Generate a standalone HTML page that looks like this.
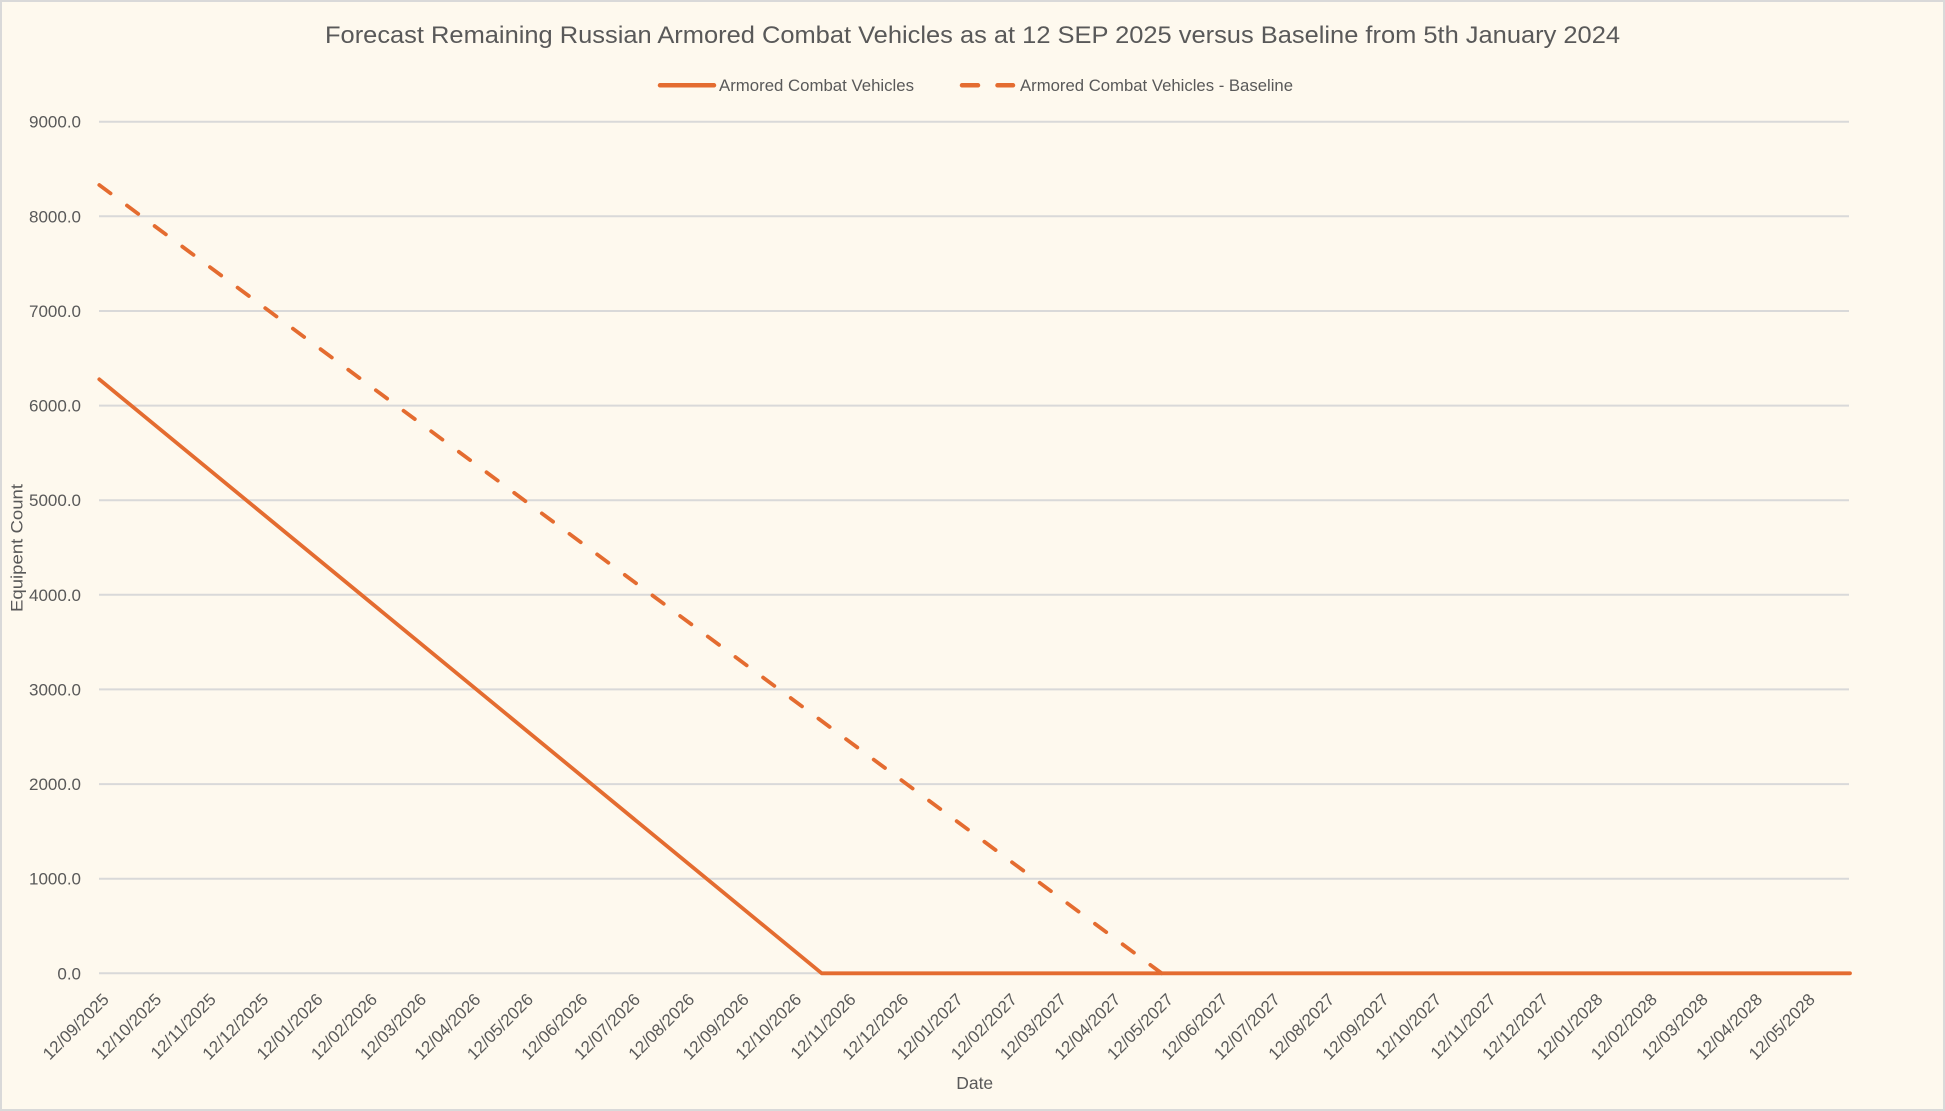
<!DOCTYPE html>
<html>
<head>
<meta charset="utf-8">
<style>
  html, body { margin:0; padding:0; background:#FEF9EE; }
  svg { display:block; }
  text { font-family: "Liberation Sans", Arial, sans-serif; fill:#595959; }
</style>
</head>
<body>
<svg width="1945" height="1111" viewBox="0 0 1945 1111" xmlns="http://www.w3.org/2000/svg">
  <rect x="1" y="1" width="1943" height="1109" fill="#FEF9EE" stroke="#D9D9D9" stroke-width="2"/>

  <!-- Title -->
  <text x="325" y="43" font-size="24" textLength="1295" lengthAdjust="spacingAndGlyphs">Forecast Remaining Russian Armored Combat Vehicles as at 12 SEP 2025 versus Baseline from 5th January 2024</text>

  <!-- Legend -->
  <line x1="660" y1="85.3" x2="714" y2="85.3" stroke="#E46C30" stroke-width="4.5" stroke-linecap="round"/>
  <text x="719" y="91" font-size="16.5" textLength="195" lengthAdjust="spacingAndGlyphs">Armored Combat Vehicles</text>
  <line x1="962" y1="85.3" x2="978" y2="85.3" stroke="#E46C30" stroke-width="4.5" stroke-linecap="round"/>
  <line x1="997.5" y1="85.3" x2="1013" y2="85.3" stroke="#E46C30" stroke-width="4.5" stroke-linecap="round"/>
  <text x="1020" y="91" font-size="16.5" textLength="273" lengthAdjust="spacingAndGlyphs">Armored Combat Vehicles - Baseline</text>

  <!-- Gridlines -->
  <g stroke="#D9D9D9" stroke-width="2">
    <line x1="99" y1="121.7" x2="1849" y2="121.7"/>
    <line x1="99" y1="216.3" x2="1849" y2="216.3"/>
    <line x1="99" y1="311.0" x2="1849" y2="311.0"/>
    <line x1="99" y1="405.6" x2="1849" y2="405.6"/>
    <line x1="99" y1="500.2" x2="1849" y2="500.2"/>
    <line x1="99" y1="594.8" x2="1849" y2="594.8"/>
    <line x1="99" y1="689.4" x2="1849" y2="689.4"/>
    <line x1="99" y1="784.1" x2="1849" y2="784.1"/>
    <line x1="99" y1="878.7" x2="1849" y2="878.7"/>
    <line x1="99" y1="973.3" x2="1849" y2="973.3"/>
  </g>

  <!-- Y tick labels -->
  <g font-size="17" text-anchor="end">
    <text x="81" y="127.7">9000.0</text>
    <text x="81" y="222.3">8000.0</text>
    <text x="81" y="317.0">7000.0</text>
    <text x="81" y="411.6">6000.0</text>
    <text x="81" y="506.2">5000.0</text>
    <text x="81" y="600.8">4000.0</text>
    <text x="81" y="695.4">3000.0</text>
    <text x="81" y="790.1">2000.0</text>
    <text x="81" y="884.7">1000.0</text>
    <text x="81" y="979.3">0.0</text>
  </g>

  <!-- Y axis title -->
  <text transform="translate(22.7,548) rotate(-90)" font-size="17" text-anchor="middle" textLength="128" lengthAdjust="spacingAndGlyphs">Equipent Count</text>

  <!-- X tick labels -->
  <g font-size="17" text-anchor="end">
    <text transform="translate(109.9,1000.6) rotate(-45)">12/09/2025</text>
    <text transform="translate(162.5,1000.6) rotate(-45)">12/10/2025</text>
    <text transform="translate(216.9,1000.6) rotate(-45)">12/11/2025</text>
    <text transform="translate(269.5,1000.6) rotate(-45)">12/12/2025</text>
    <text transform="translate(323.8,1000.6) rotate(-45)">12/01/2026</text>
    <text transform="translate(378.2,1000.6) rotate(-45)">12/02/2026</text>
    <text transform="translate(427.3,1000.6) rotate(-45)">12/03/2026</text>
    <text transform="translate(481.6,1000.6) rotate(-45)">12/04/2026</text>
    <text transform="translate(534.2,1000.6) rotate(-45)">12/05/2026</text>
    <text transform="translate(588.6,1000.6) rotate(-45)">12/06/2026</text>
    <text transform="translate(641.2,1000.6) rotate(-45)">12/07/2026</text>
    <text transform="translate(695.5,1000.6) rotate(-45)">12/08/2026</text>
    <text transform="translate(749.9,1000.6) rotate(-45)">12/09/2026</text>
    <text transform="translate(802.5,1000.6) rotate(-45)">12/10/2026</text>
    <text transform="translate(856.8,1000.6) rotate(-45)">12/11/2026</text>
    <text transform="translate(909.4,1000.6) rotate(-45)">12/12/2026</text>
    <text transform="translate(963.8,1000.6) rotate(-45)">12/01/2027</text>
    <text transform="translate(1018.1,1000.6) rotate(-45)">12/02/2027</text>
    <text transform="translate(1067.2,1000.6) rotate(-45)">12/03/2027</text>
    <text transform="translate(1121.6,1000.6) rotate(-45)">12/04/2027</text>
    <text transform="translate(1174.2,1000.6) rotate(-45)">12/05/2027</text>
    <text transform="translate(1228.5,1000.6) rotate(-45)">12/06/2027</text>
    <text transform="translate(1281.1,1000.6) rotate(-45)">12/07/2027</text>
    <text transform="translate(1335.5,1000.6) rotate(-45)">12/08/2027</text>
    <text transform="translate(1389.8,1000.6) rotate(-45)">12/09/2027</text>
    <text transform="translate(1442.4,1000.6) rotate(-45)">12/10/2027</text>
    <text transform="translate(1496.8,1000.6) rotate(-45)">12/11/2027</text>
    <text transform="translate(1549.4,1000.6) rotate(-45)">12/12/2027</text>
    <text transform="translate(1603.7,1000.6) rotate(-45)">12/01/2028</text>
    <text transform="translate(1658.1,1000.6) rotate(-45)">12/02/2028</text>
    <text transform="translate(1708.9,1000.6) rotate(-45)">12/03/2028</text>
    <text transform="translate(1763.3,1000.6) rotate(-45)">12/04/2028</text>
    <text transform="translate(1815.9,1000.6) rotate(-45)">12/05/2028</text>
  </g>

  <!-- X axis title -->
  <text x="974.7" y="1089" font-size="17.5" text-anchor="middle">Date</text>

  <!-- Series: baseline (dashed) -->
  <line x1="99.3" y1="185" x2="1161.7" y2="973.3" stroke="#E46C30" stroke-width="3.8" stroke-dasharray="14 20.44" stroke-linecap="round"/>

  <!-- Series: actual (solid) -->
  <polyline points="99.3,379.3 821.7,973.3 1850,973.3" fill="none" stroke="#E46C30" stroke-width="3.8" stroke-linecap="round" stroke-linejoin="round"/>
</svg>
</body>
</html>
